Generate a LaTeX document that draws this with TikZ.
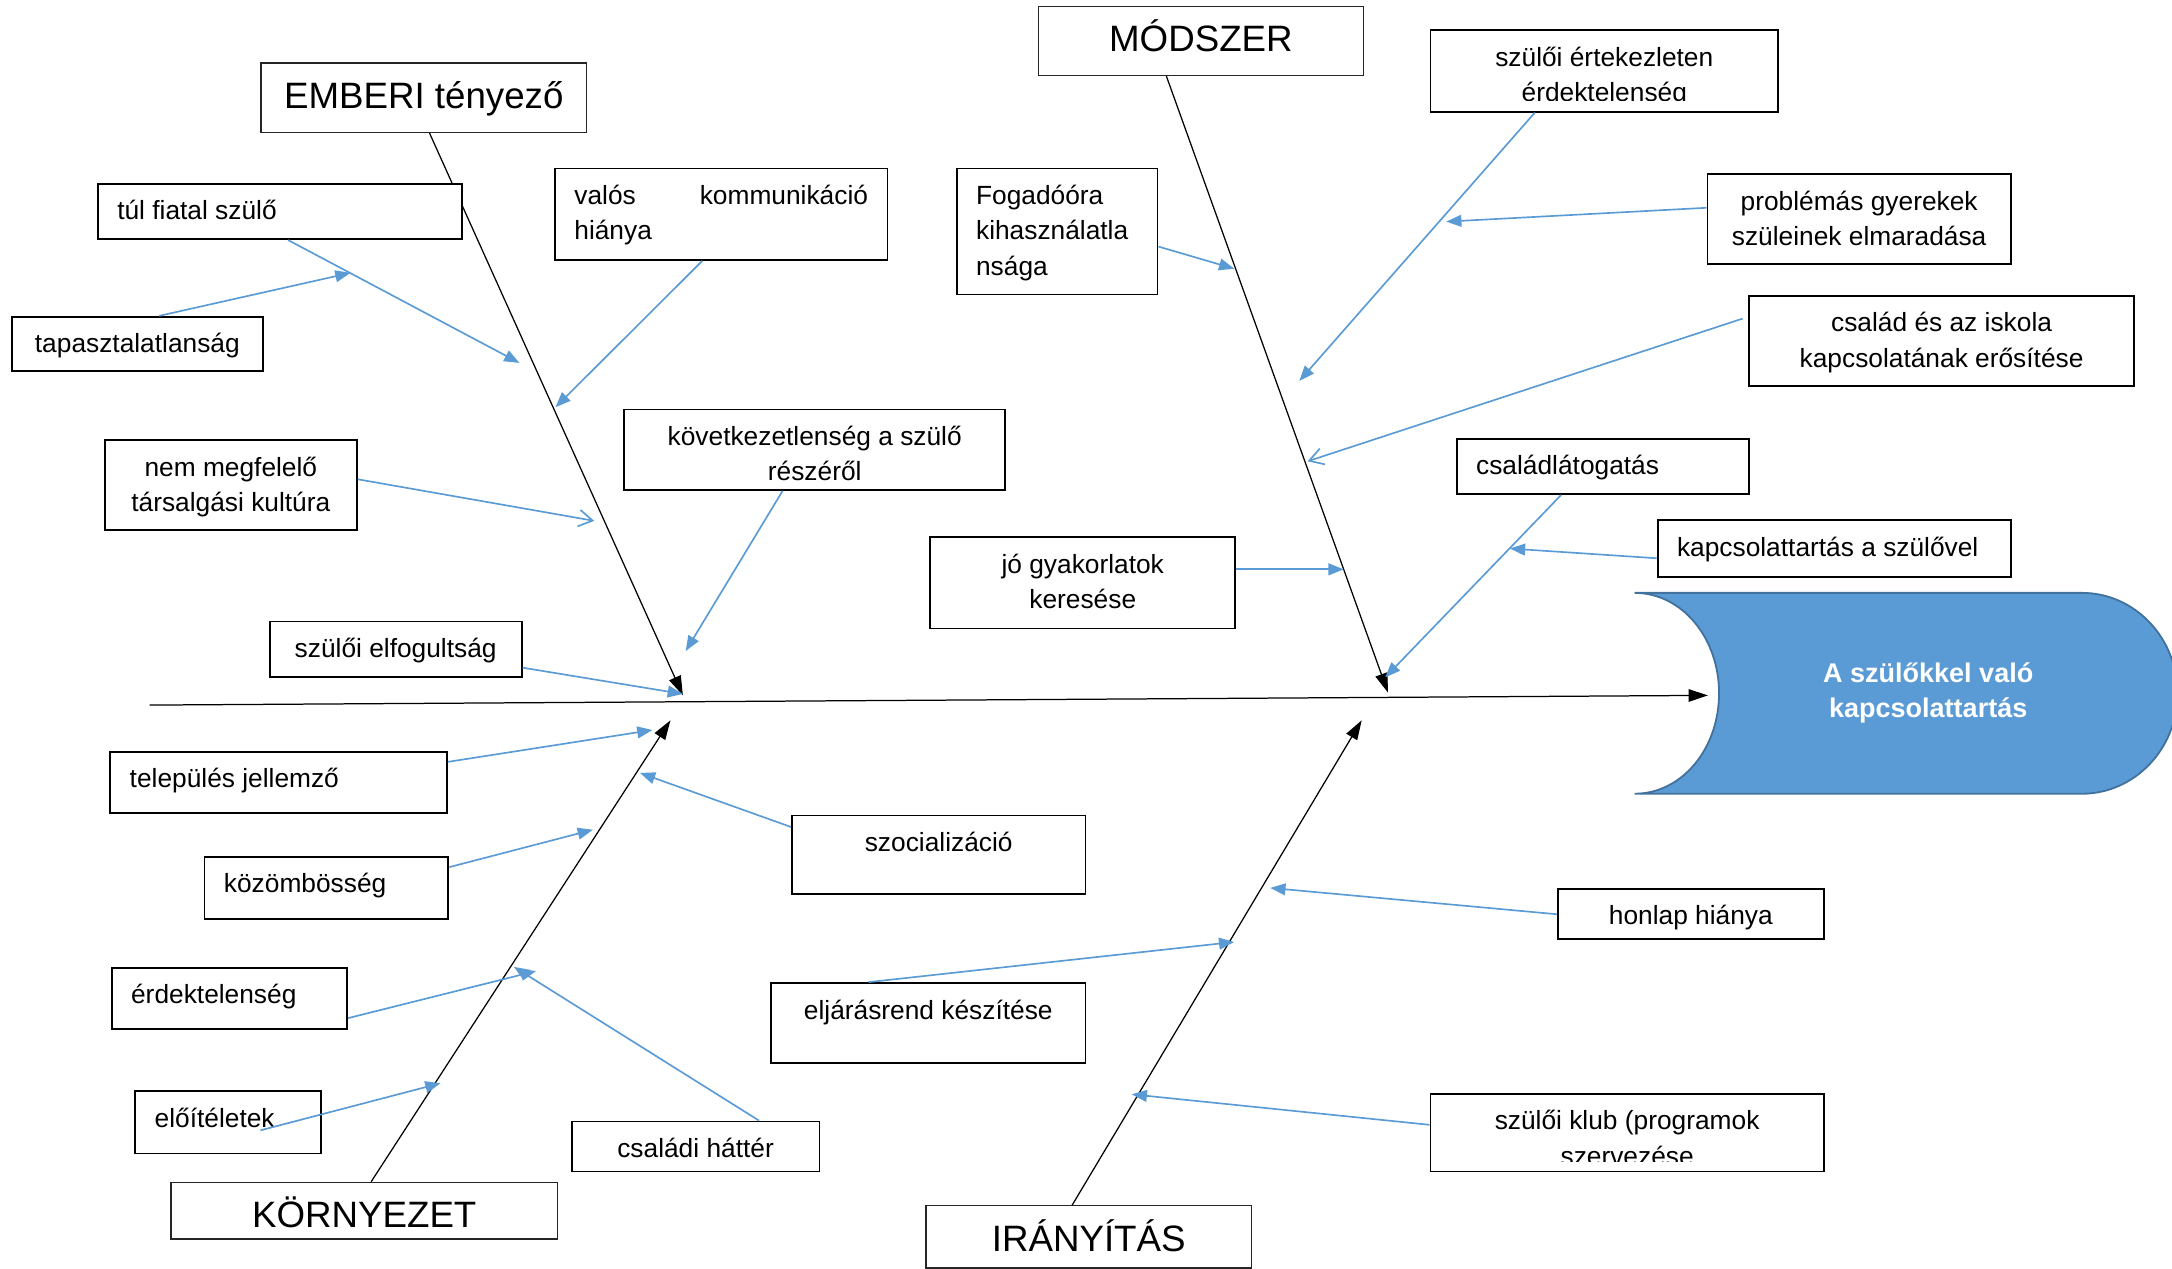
\documentclass[tikz,border=0pt]{standalone}
\usepackage{fontspec}
\setmainfont{Liberation Sans}
\usetikzlibrary{arrows.meta,calc}
\definecolor{blu}{HTML}{5B9BD5}
\definecolor{blud}{HTML}{41719C}
\pgfdeclarelayer{bg}
\pgfsetlayers{bg,main}
\newcommand\tbc[3]{\parbox[c][#2][t]{#1}{\centering\rule{0pt}{26pt}#3\par}}
\newcommand\tbl[3]{\parbox[c][#2][t]{#1}{\raggedright\rule{0pt}{26pt}#3\par}}
\newcommand\tbt[3]{\parbox[c][#2][t]{#1}{\centering\rule{0pt}{33pt}#3\par}}
\tikzset{
  bx/.style={draw=black, fill=white, line width=1.3pt, inner xsep=14pt, inner ysep=0pt,
    anchor=north west, font=\fontsize{19}{25.5}\selectfont},
  ttl/.style={draw=black!85, fill=white, line width=0.9pt, inner sep=0pt,
    anchor=north west, font=\fontsize{26.5}{30}\selectfont},
  ba/.style={draw=blu, line width=1.2pt, -{Triangle[length=11pt,width=8.5pt]}},
  bo/.style={draw=blu, line width=1.2pt, -{Straight Barb[length=10pt,width=12pt]}},
  bone/.style={draw=black, line width=0.9pt, -{Triangle[length=14pt,width=9pt]}},
}
\begin{document}
\begin{tikzpicture}[x=1pt,y=-1pt]
\clip (0,0) rectangle (1568,916);
% head
\path[fill=blu, draw=blud, line width=1.3pt] (1180,428) -- (1503,428)
  .. controls (1541,428) and (1572,460.5) .. (1572,500.5)
  .. controls (1572,540.5) and (1541,573) .. (1503,573) -- (1180,573)
  .. controls (1214.2,573) and (1241,540.5) .. (1241,500.5)
  .. controls (1241,460.5) and (1214.2,428) .. cycle;
\node[font=\bfseries\fontsize{19.5}{25}\selectfont, text=white, align=center] (ht) at (1392,500) {A szülőkkel való\\kapcsolattartás};

% title boxes
\node[ttl] (emb) at (188,45) {\tbt{235pt}{50pt}{EMBERI tényező}};
\node[ttl] (mod) at (749,4) {\tbt{235pt}{50pt}{MÓDSZER}};
\node[ttl] (kor) at (123,853) {\tbt{279pt}{41pt}{KÖRNYEZET}};
\node[ttl] (ira) at (668,870) {\tbt{235pt}{45pt}{IRÁNYÍTÁS}};

% coordinates
\coordinate (s0) at (108,509);
\coordinate (s1) at (1233,502);
\coordinate (ee) at (493,502);
\coordinate (me) at (1002,500);
\coordinate (ke) at (484,520);
\coordinate (ie) at (983,520);
\coordinate (a1) at (375,262);
\coordinate (a2) at (253,197);
\coordinate (a3) at (401,294);
\coordinate (a4) at (429,376);
\coordinate (a5) at (495,470);
\coordinate (a6) at (493,501);
\coordinate (b1) at (891,194);
\coordinate (b2) at (938,275);
\coordinate (b3) at (1044,160);
\coordinate (b4) at (944,333);
\coordinate (b5) at (970,411);
\coordinate (b6) at (1000,489);
\coordinate (b7) at (1090,396);
\coordinate (c1) at (471,527);
\coordinate (c2) at (428,599);
\coordinate (c3) at (387,701);
\coordinate (c4) at (371,698);
\coordinate (c5) at (318,782);
\coordinate (c6) at (462,558);
\coordinate (d1) at (891,680);
\coordinate (d2) at (917,641);
\coordinate (d3) at (817,790);

% spine and bones
\begin{pgfonlayer}{bg}
\draw[bone] (s0) -- (s1);
\draw[bone] ($(emb.south west)+(122,0)$) -- (ee);
\draw[bone] ($(mod.south west)+(93,0)$) -- (me);
\draw[bone] ($(kor.north west)+(145,0)$) -- (ke);
\draw[bone] ($(ira.north west)+(106,0)$) -- (ie);
\end{pgfonlayer}

% cause boxes
\node[bx] (tul) at (70,132) {\tbl{235pt}{40pt}{túl fiatal szülő}};
\node[bx] (tap) at (8,228) {\tbc{153pt}{39pt}{tapasztalatlanság}};
\node[bx] (val) at (400,121) {\tbl{212pt}{66pt}{valós\hfill kommunikáció\\hiánya}};
\node[bx] (nem) at (75,317) {\tbc{154pt}{65pt}{nem megfelelő\\társalgási kultúra}};
\node[bx] (kov) at (450,295) {\tbc{247pt}{58pt}{következetlenség a szülő\\részéről}};
\node[bx] (elf) at (194,448) {\tbc{154pt}{40pt}{szülői elfogultság}};
\node[bx] (fog) at (690,121) {\tbl{117pt}{91pt}{Fogadóóra\\kihasználatla\\nsága}};
\node[bx] (ert) at (1032,21) {\tbc{223pt}{59pt}{szülői értekezleten\\érdektelenség}};
\node[bx] (prob) at (1232,125) {\tbc{191pt}{65pt}{problémás gyerekek\\szüleinek elmaradása}};
\node[bx] (csal) at (1262,213) {\tbc{250pt}{65pt}{család és az iskola\\kapcsolatának erősítése}};
\node[bx] (cslat) at (1051,316) {\tbl{183pt}{40pt}{családlátogatás}};
\node[bx] (kap) at (1196,375) {\tbl{227pt}{41pt}{kapcsolattartás a szülővel}};
\node[bx] (jo) at (671,387) {\tbc{192pt}{66pt}{jó gyakorlatok\\keresése}};
\node[bx] (tel) at (79,542) {\tbl{215pt}{44pt}{település jellemző}};
\node[bx] (koz) at (147,618) {\tbl{148pt}{45pt}{közömbösség}};
\node[bx] (erd) at (80,698) {\tbl{142pt}{44pt}{érdektelenség}};
\node[bx] (elo) at (97,787) {\tbl{106pt}{45pt}{előítéletek}};
\node[bx] (csh) at (412,809) {\tbc{151pt}{36pt}{családi háttér}};
\node[bx] (szoc) at (571,588) {\tbc{184pt}{57pt}{szocializáció}};
\node[bx] (elj) at (556,709) {\tbc{199pt}{58pt}{eljárásrend készítése}};
\node[bx] (hon) at (1124,641) {\tbc{164pt}{36pt}{honlap hiánya}};
\node[bx] (klub) at (1032,789) {\tbc{256pt}{56pt}{szülői klub (programok\\szervezése}};

% clipped text lines
\fill[white] (1033,73) rectangle (1282,79.3);
\fill[white] (1033,838.5) rectangle (1315,844.3);

% blue arrows
\draw[ba] ($(tul.south west)+(138,0)$) -- (a1);
\draw[ba] ($(tap.north west)+(107,0)$) -- (a2);
\draw[ba] ($(val.south west)+(107,0)$) -- (a3);
\draw[bo] ($(nem.north east)+(0,29)$) -- (a4);
\draw[ba] ($(kov.south west)+(115,0)$) -- (a5);
\draw[ba] ($(elf.north east)+(0,34)$) -- (a6);
\draw[ba] ($(fog.north east)+(0,57)$) -- (b1);
\draw[ba] ($(ert.south west)+(76,0)$) -- (b2);
\draw[ba] ($(prob.north west)+(0,25)$) -- (b3);
\draw[bo] ($(csal.north west)+(-4,17)$) -- (b4);
\draw[ba] ($(jo.north east)+(0,24)$) -- (b5);
\draw[ba] ($(cslat.south west)+(76,0)$) -- (b6);
\draw[ba] ($(kap.north west)+(0,28)$) -- (b7);
\draw[ba] ($(tel.north east)+(0,8)$) -- (c1);
\draw[ba] ($(koz.north east)+(0,8)$) -- (c2);
\draw[ba] ($(erd.north east)+(0,37)$) -- (c3);
\draw[ba] ($(csh.north west)+(136,0)$) -- (c4);
\draw[ba] ($(elo.north west)+(91,29)$) -- (c5);
\draw[ba] ($(szoc.north west)+(0,9)$) -- (c6);
\draw[ba] ($(elj.north west)+(71,0)$) -- (d1);
\draw[ba] ($(hon.north west)+(0,19)$) -- (d2);
\draw[ba] ($(klub.north west)+(0,23)$) -- (d3);
\end{tikzpicture}
\end{document}
